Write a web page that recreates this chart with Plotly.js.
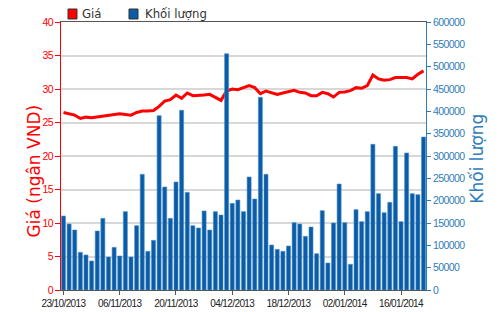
<!DOCTYPE html>
<html>
<head>
<meta charset="utf-8">
<script src="https://cdn.plot.ly/plotly-3.0.1.min.js"></script>
<style>
html,body{margin:0;padding:0;background:#fff;}
#chart{width:500px;height:312px;}
.xtick text, .ytick text, .y2tick text{letter-spacing:-0.6px;}
</style>
</head>
<body>
<div id="chart"></div>
<script>
const dates = ["23/10/2013","24/10/2013","25/10/2013","28/10/2013","29/10/2013","30/10/2013","31/10/2013","01/11/2013","04/11/2013","05/11/2013",
"06/11/2013","07/11/2013","08/11/2013","11/11/2013","12/11/2013","13/11/2013","14/11/2013","15/11/2013","18/11/2013","19/11/2013",
"20/11/2013","21/11/2013","22/11/2013","25/11/2013","26/11/2013","27/11/2013","28/11/2013","29/11/2013","02/12/2013","03/12/2013",
"04/12/2013","05/12/2013","06/12/2013","09/12/2013","10/12/2013","11/12/2013","12/12/2013","13/12/2013","16/12/2013","17/12/2013",
"18/12/2013","19/12/2013","20/12/2013","23/12/2013","24/12/2013","25/12/2013","26/12/2013","27/12/2013","30/12/2013","31/12/2013",
"02/01/2014","03/01/2014","06/01/2014","07/01/2014","08/01/2014","09/01/2014","10/01/2014","13/01/2014","14/01/2014","15/01/2014",
"16/01/2014","17/01/2014","20/01/2014","21/01/2014","22/01/2014"];

const volume = [165700,147800,134300,84300,78400,64900,132100,160400,73900,95500,
76100,175400,73900,144000,259000,86600,111200,390300,230600,160400,
241800,402300,218700,144000,138800,176900,134300,175400,167900,529100,
194000,201500,175400,253000,203700,431400,259000,100700,91000,86600,
98500,150700,147800,120200,141000,81300,177600,60400,150000,237300,
150700,57500,179900,153000,175400,326100,215700,173100,196300,321600,
153000,306700,215700,213400,342500];

const price = [26.5,26.3,26.1,25.6,25.8,25.7,25.8,26.0,26.0,26.2,
26.3,26.2,26.1,26.5,26.7,26.7,26.8,27.4,28.2,28.4,
29.1,28.6,29.4,29.0,29.0,29.1,29.2,28.8,28.3,29.7,
30.0,29.9,30.2,30.5,30.2,29.3,29.7,29.5,29.2,29.4,
29.6,29.8,29.5,29.4,29.0,29.0,29.5,29.3,28.8,29.5,
29.55,29.75,30.2,30.1,30.5,32.1,31.5,31.3,31.4,31.7,
31.7,31.7,31.5,32.2,32.7];

const tickDates = ["23/10/2013","06/11/2013","20/11/2013","04/12/2013","18/12/2013","02/01/2014","16/01/2014"];

const seriesNames = ["Giá", "Khối lượng"];
const leftTitle = "Giá (ngân VND)";
const rightTitle = "Khối lượng";

const RED = "#ff0000";
const BLUE = "#0b5ca6";
const AXBLUE = "#2f7db8";
const tickFont = "Liberation Sans, Arial, sans-serif";
const titleFont = "DejaVu Sans, sans-serif";

const traces = [
  {type:"bar", x:dates, y:volume, yaxis:"y2", name:seriesNames[1], showlegend:false,
   marker:{color:BLUE, line:{color:"#4a8fcc", width:0.6}}},
  {type:"scatter", mode:"lines", x:dates, y:price, yaxis:"y", name:seriesNames[0], showlegend:false,
   line:{color:RED, width:3}}
];

// legend drawn as squares + labels (paper coordinates)
const legendShapes = [
  {type:"rect", xref:"paper", yref:"paper", x0:0.0192, x1:0.0438, y0:1.0112, y1:1.0485,
   fillcolor:RED, line:{color:"#333", width:1}},
  {type:"rect", xref:"paper", yref:"paper", x0:0.1863, x1:0.2110, y0:1.0112, y1:1.0485,
   fillcolor:BLUE, line:{color:"#333", width:1}}
];
const annotations = [
  {xref:"paper", yref:"paper", x:0.052, y:1.030, xanchor:"left", yanchor:"middle", showarrow:false,
   text:seriesNames[0], font:{family:"DejaVu Sans Condensed, DejaVu Sans, sans-serif", size:13, color:"#333"}},
  {xref:"paper", yref:"paper", x:0.2247, y:1.030, xanchor:"left", yanchor:"middle", showarrow:false,
   text:seriesNames[1], font:{family:"DejaVu Sans Condensed, DejaVu Sans, sans-serif", size:13, color:"#333"}},
  {xref:"paper", yref:"paper", x:-0.074, y:0.446, xanchor:"center", yanchor:"middle", showarrow:false,
   textangle:-90, text:leftTitle, font:{family:titleFont, size:17, color:RED}},
  {xref:"paper", yref:"paper", x:1.139, y:0.489, xanchor:"center", yanchor:"middle", showarrow:false,
   textangle:-90, text:rightTitle, font:{family:titleFont, size:17, color:AXBLUE}}
];

const layout = {
  width:500, height:312,
  margin:{l:61, r:74, t:22, b:22, pad:0},
  paper_bgcolor:"#fff", plot_bgcolor:"#fff",
  bargap:0.28,
  showlegend:false,
  shapes:legendShapes,
  annotations:annotations,
  xaxis:{type:"category", range:[-0.44, 64.44], tickmode:"array", tickvals:tickDates, ticktext:tickDates,
         tickangle:0, showgrid:false, zeroline:false, showline:true, linecolor:"#555", linewidth:1, mirror:true,
         ticks:"outside", ticklen:4, tickcolor:"#555",
         tickfont:{family:tickFont, size:10, color:"#222"}},
  yaxis:{range:[0,40], dtick:5, tick0:0, showgrid:true, gridcolor:"#d8d8d8", gridwidth:2, zeroline:false,
         showline:true, linecolor:RED, linewidth:1, ticks:"outside", ticklen:5, tickcolor:RED,
         tickfont:{family:tickFont, size:10.5, color:RED}},
  yaxis2:{range:[0,600000], dtick:50000, tick0:0, overlaying:"y", side:"right", showgrid:false, zeroline:false,
          showline:true, linecolor:AXBLUE, linewidth:1, ticks:"outside", ticklen:4, tickcolor:AXBLUE,
          tickformat:"d", tickfont:{family:tickFont, size:10.5, color:AXBLUE}}
};

Plotly.newPlot("chart", traces, layout, {displayModeBar:false, staticPlot:true});
</script>
</body>
</html>
